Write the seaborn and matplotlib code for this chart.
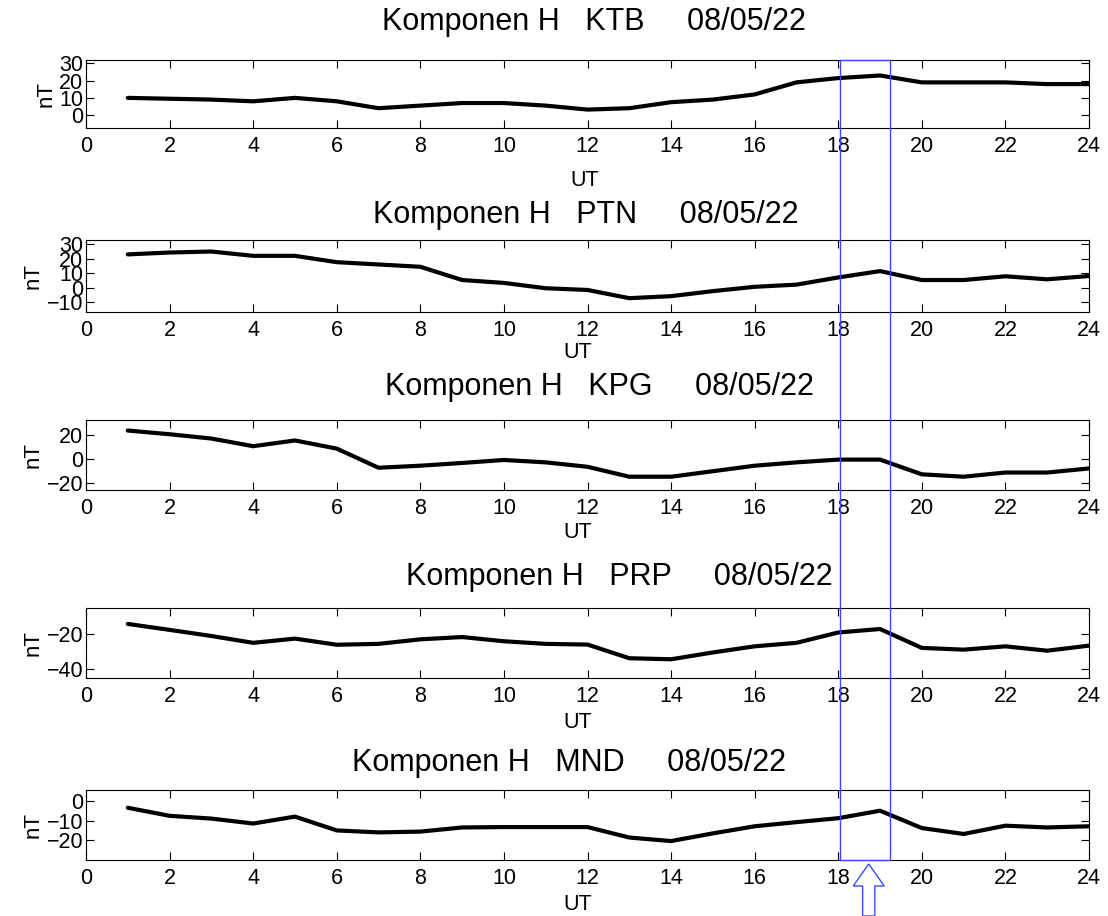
# Komponen H - variasi harian 08/05/22, lima stasiun
import numpy as np
import matplotlib
matplotlib.use("Agg")
import matplotlib.pyplot as plt
import seaborn as sns
from matplotlib.lines import Line2D
from matplotlib.patches import FancyArrow

hours = list(range(1, 25))

ktb = [10, 9.5, 9, 8, 10, 8, 4, 5.5, 7, 7, 5.5, 3.2, 4, 7.5, 9, 12, 19, 21.5, 23, 19, 19, 19, 18, 18]
ptn = [23, 24.3, 25, 22, 22, 17.6, 16, 14.4, 5.2, 3.2, -0.5, -1.7, -7.4, -6, -2.5, 0.5, 2, 7, 11.4, 5.2, 5.2, 7.8, 5.7, 8]
kpg = [23.7, 20.6, 17, 10.6, 15.4, 8.6, -7.4, -5.7, -3.4, -0.9, -2.9, -6.6, -14.9, -14.9, -10.3, -5.7, -2.9, -0.6, -0.6, -12.9, -14.9, -11.4, -11.4, -8]
prp = [-14.1, -17.5, -21, -24.9, -22.5, -26, -25.5, -22.9, -21.6, -24, -25.5, -25.9, -33.7, -34.3, -30.4, -26.9, -24.9, -19, -17, -27.8, -28.8, -26.9, -29.4, -26.5]
mnd = [-3.5, -7.6, -9, -11.5, -8, -15, -16, -15.6, -13.5, -13.3, -13.3, -13.3, -18.6, -20.4, -16.5, -12.9, -10.8, -8.8, -5, -13.8, -16.8, -12.6, -13.5, -12.9]

stations = ["KTB", "PTN", "KPG", "PRP", "MND"]
series = [ktb, ptn, kpg, prp, mnd]
yticks = [[0, 10, 20, 30], [-10, 0, 10, 20, 30], [-20, 0, 20], [-40, -20], [-20, -10, 0]]
ylims = [(-7.5, 32), (-17, 33), (-26, 32.5), (-45, -5), (-30, 5.5)]
tanggal = "08/05/22"

W, H = 1108, 916
# posisi panel (piksel: atas, bawah) dan posisi judul / label UT
tops = [60, 240, 420, 608, 790]
bottoms = [128, 312, 490, 678, 860]
title_pos = [(594, 22), (586, 215), (599, 387), (619, 577), (569, 763)]
ut_pos = [(585, 180), (578, 352), (578, 533), (578, 723), (578, 905)]
x_left, x_right = 86, 1089


def fx(x):
    return x / W


def fy(y):
    return 1 - y / H


sns.set_style("ticks")
plt.rcParams["font.family"] = ["Liberation Sans", "DejaVu Sans"]
plt.rcParams["text.color"] = "black"
plt.rcParams["axes.labelcolor"] = "black"

fig = plt.figure(figsize=(W / 100, H / 100), dpi=100)

axes = []
for i in range(5):
    ax = fig.add_axes([fx(x_left), fy(bottoms[i]), (x_right - x_left) / W, (bottoms[i] - tops[i]) / H])
    sns.lineplot(x=hours, y=series[i], ax=ax, color="black", linewidth=3)
    ax.set_xlim(0, 24)
    ax.set_ylim(*ylims[i])
    ax.set_xticks(range(0, 25, 2))
    ax.set_yticks(yticks[i])
    ax.tick_params(direction="in", top=True, right=True, length=6, width=0.8,
                   labelsize=15.5, colors="black")
    ax.tick_params(axis="x", pad=6)
    ax.tick_params(axis="y", pad=2)
    for s in ax.spines.values():
        s.set_linewidth(0.8)
        s.set_color("black")
    ax.set_xlabel("")
    ax.set_ylabel("nT", fontsize=16, labelpad=2)
    fig.text(fx(title_pos[i][0]), fy(title_pos[i][1]),
             f"Komponen H   {stations[i]}     {tanggal}",
             ha="center", va="center", fontsize=22)
    fig.text(fx(ut_pos[i][0]), fy(ut_pos[i][1]), "UT", ha="center", va="center", fontsize=15.5)
    axes.append(ax)

# kotak biru untuk jam 18-19 UT
x0, x1 = 18.05, 19.25
inv = fig.transFigure.inverted()
fx0 = inv.transform(axes[-1].transData.transform((x0, 0)))[0]
fx1 = inv.transform(axes[-1].transData.transform((x1, 0)))[0]
y_top, y_bot = fy(tops[0]), fy(bottoms[-1])
for xs, ys in [([fx0, fx0], [y_bot, y_top]), ([fx1, fx1], [y_bot, y_top]),
               ([fx0, fx1], [y_top, y_top]), ([fx0, fx1], [y_bot, y_bot])]:
    fig.add_artist(Line2D(xs, ys, transform=fig.transFigure, color="#3a4cf0", linewidth=1, zorder=10))

# panah penunjuk
xa = (fx0 + fx1) / 2 + 0.003
fig.add_artist(FancyArrow(xa, fy(916), 0, fy(864) - fy(916), width=0.011, head_width=0.028,
                          head_length=0.024, length_includes_head=True, transform=fig.transFigure,
                          facecolor="white", edgecolor="#3a4cf0", linewidth=1, zorder=10))

fig.savefig("out.png", dpi=100, facecolor="white")
